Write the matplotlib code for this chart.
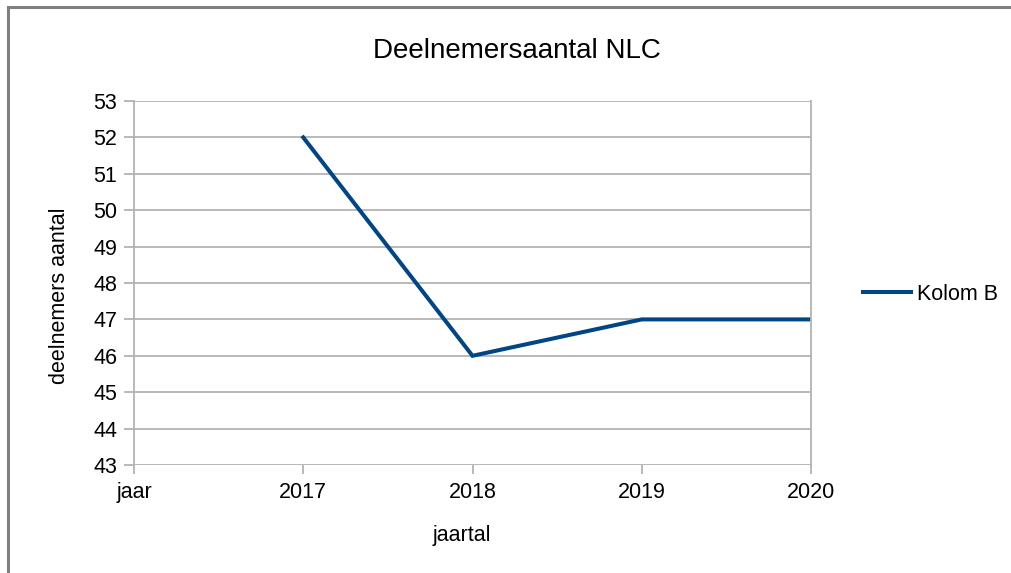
import matplotlib
matplotlib.use("Agg")
import matplotlib.pyplot as plt
import numpy as np
from matplotlib.patches import Rectangle

categories = ["jaar", "2017", "2018", "2019", "2020"]
values = [np.nan, 52, 46, 47, 47]
series_name = "Kolom B"
title = "Deelnemersaantal NLC"
xlabel = "jaartal"
ylabel = "deelnemers aantal"

plt.rcParams['font.family'] = ['Liberation Sans', 'DejaVu Sans']

W, H = 1012, 573
fig = plt.figure(figsize=(W/100, H/100), dpi=100)
ax = fig.add_axes([134/W, 1-465/H, (811-134)/W, (465-101)/H])

x = np.arange(len(categories))
ax.plot(x, values, color="#004586", linewidth=2.9, label=series_name, solid_joinstyle="miter")

ax.set_xlim(0, len(categories)-1)
ax.set_ylim(43, 53)
ax.set_yticks(np.arange(43, 54, 1))
ax.set_xticks(x)
ax.set_xticklabels(categories)

grid_c = "#b3b3b3"
ax.yaxis.grid(True, color=grid_c, linewidth=1.3)
ax.set_axisbelow(True)
for s in ["left", "right"]:
    ax.spines[s].set_color(grid_c)
    ax.spines[s].set_linewidth(1.3)
for s in ["top", "bottom"]:
    ax.spines[s].set_visible(False)

fs = 15.5
ax.tick_params(axis="y", length=7, width=1.3, color=grid_c, pad=5, labelsize=fs, labelcolor="#000000")
ax.tick_params(axis="x", length=6.5, width=1.3, color=grid_c, pad=6, labelsize=fs, labelcolor="#000000")

fig.text(517/W, 1-51/H, title, ha="center", va="center", fontsize=20)
fig.text(462/W, 1-536/H, xlabel, ha="center", va="center", fontsize=fs)
fig.text(60/W, 1-296/H, ylabel, ha="center", va="center", rotation=90, fontsize=fs)

leg = fig.legend(loc="center left", bbox_to_anchor=(863/W, 1-294/H), frameon=False,
                 fontsize=fs, handlelength=2.25, handletextpad=0.28, borderaxespad=0, borderpad=0)

fig.patches.append(Rectangle((8/W, -0.1), 1.2, 1-7/H+0.1, transform=fig.transFigure,
                             fill=False, edgecolor="#808080", linewidth=2.2))

fig.savefig("out.png", dpi=100)
